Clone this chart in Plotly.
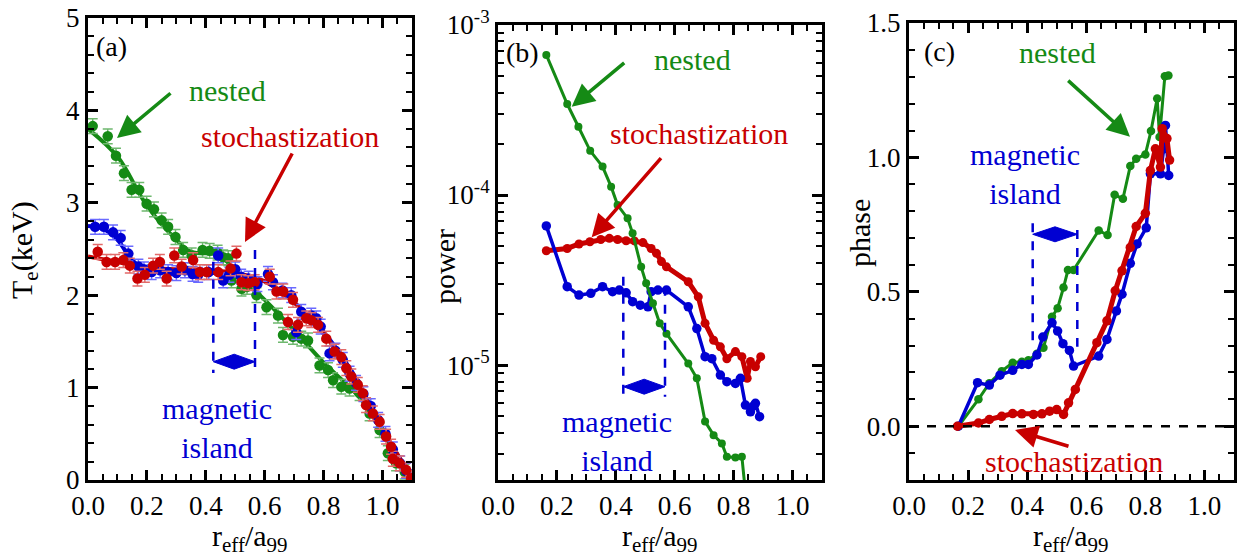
import plotly.graph_objects as go

W, H = 1245, 560
FONT = "Liberation Serif, DejaVu Serif, Times New Roman, serif"
GREEN = "#158a15"
BLUE = "#0000d2"
RED = "#c80000"
GREEN_L = "#6fb86f"
BLUE_L = "#6a6aff"
RED_L = "#e26a6a"

# ---------------- panel (a): Te profiles ----------------
TE_X_NESTED = [0.016, 0.067, 0.095, 0.122, 0.148, 0.174, 0.199, 0.224, 0.250, 0.272, 0.297, 0.323, 0.352,
               0.389, 0.413, 0.440, 0.459, 0.476, 0.487, 0.521, 0.540, 0.572, 0.606, 0.645, 0.662, 0.696,
               0.724, 0.747, 0.786, 0.815, 0.832, 0.860, 0.888, 0.922, 0.956, 0.990, 1.018, 1.046, 1.075, 1.095]
TE_Y_NESTED = [3.83, 3.72, 3.51, 3.32, 3.14, 3.14, 2.99, 2.93, 2.81, 2.74, 2.63, 2.49, 2.43,
               2.49, 2.48, 2.46, 2.41, 2.40, 2.16, 2.07, 2.09, 2.00, 1.87, 1.78, 1.57, 1.55,
               1.53, 1.51, 1.24, 1.19, 1.08, 1.01, 0.99, 0.94, 0.72, 0.54, 0.29, 0.18, 0.09, 0.03]

TE_X_ISLAND = [0.024, 0.054, 0.085, 0.111, 0.137, 0.171, 0.190, 0.216, 0.245, 0.272, 0.300, 0.329, 0.355,
               0.374, 0.410, 0.442, 0.459, 0.480, 0.500, 0.520, 0.545, 0.575, 0.611, 0.628, 0.660, 0.690,
               0.707, 0.724, 0.758, 0.775, 0.790, 0.820, 0.840, 0.865, 0.888, 0.910, 0.935, 0.960, 0.985,
               1.010, 1.035, 1.060, 1.080, 1.100]
TE_Y_ISLAND = [2.74, 2.74, 2.68, 2.62, 2.45, 2.31, 2.28, 2.25, 2.27, 2.25, 2.24, 2.27, 2.23,
               2.22, 2.25, 2.43, 2.16, 2.22, 2.28, 2.20, 2.18, 2.12, 2.23, 2.14, 2.05, 2.00,
               1.60, 1.82, 1.78, 1.75, 1.66, 1.37, 1.40, 1.30, 1.15, 1.05, 0.93, 0.80, 0.65,
               0.50, 0.33, 0.18, 0.10, 0.03]

TE_X_STOCH = [0.033, 0.063, 0.092, 0.120, 0.142, 0.168, 0.193, 0.221, 0.244, 0.267, 0.293, 0.318, 0.357,
              0.380, 0.403, 0.442, 0.484, 0.504, 0.521, 0.544, 0.566, 0.617, 0.640, 0.663, 0.679, 0.696,
              0.713, 0.741, 0.758, 0.781, 0.809, 0.837, 0.860, 0.877, 0.894, 0.916, 0.933, 0.944, 0.967,
              0.990, 1.012, 1.029, 1.035, 1.058, 1.080, 1.097]
TE_Y_STOCH = [2.47, 2.36, 2.36, 2.38, 2.32, 2.18, 2.22, 2.32, 2.36, 2.18, 2.43, 2.31, 2.38,
              2.25, 2.25, 2.25, 2.29, 2.45, 2.14, 2.13, 2.14, 2.20, 2.04, 2.04, 1.71, 1.95,
              1.68, 1.75, 1.73, 1.68, 1.53, 1.39, 1.33, 1.21, 1.12, 1.03, 0.94, 0.81, 0.72,
              0.63, 0.47, 0.36, 0.23, 0.18, 0.11, 0.02]
TE_ERR = 0.08

# fitted profile curves
FIT_X_NESTED = [0.0, 0.1, 0.2, 0.3, 0.35, 0.45, 0.5, 0.55, 0.6, 0.7, 0.8, 0.9, 0.95, 1.0, 1.05, 1.1]
FIT_Y_NESTED = [3.80, 3.50, 2.97, 2.60, 2.47, 2.43, 2.25, 2.10, 1.95, 1.62, 1.27, 0.97, 0.78, 0.52, 0.25, 0.02]
FIT_X_ISLAND = [0.0, 0.05, 0.1, 0.15, 0.2, 0.3, 0.4, 0.5, 0.6, 0.7, 0.8, 0.9, 1.0, 1.1]
FIT_Y_ISLAND = [2.75, 2.72, 2.60, 2.38, 2.28, 2.26, 2.25, 2.20, 2.15, 1.92, 1.60, 1.15, 0.55, 0.02]
FIT_X_STOCH = [0.0, 0.1, 0.2, 0.3, 0.4, 0.5, 0.6, 0.7, 0.8, 0.9, 1.0, 1.1]
FIT_Y_STOCH = [2.42, 2.36, 2.30, 2.28, 2.27, 2.24, 2.15, 1.92, 1.58, 1.13, 0.55, 0.02]

# ---------------- panel (b): power ----------------
PW_X_NESTED = [0.164, 0.235, 0.273, 0.313, 0.355, 0.384, 0.406, 0.440, 0.457, 0.486, 0.503, 0.526,
               0.549, 0.572, 0.646, 0.675, 0.703, 0.732, 0.760, 0.777, 0.806, 0.828, 0.850]
PW_Y_NESTED = [6.67e-4, 3.43e-4, 2.52e-4, 1.82e-4, 1.47e-4, 1.12e-4, 8.73e-5, 7.29e-5, 5.96e-5, 3.78e-5,
               3.03e-5, 2.31e-5, 1.76e-5, 1.53e-5, 1.02e-5, 8.36e-6, 4.65e-6, 3.87e-6, 3.46e-6, 2.89e-6,
               2.86e-6, 2.89e-6, 1.2e-6]

PW_X_ISLAND = [0.164, 0.235, 0.275, 0.315, 0.355, 0.389, 0.412, 0.435, 0.457, 0.483, 0.509, 0.520, 0.543,
               0.572, 0.646, 0.675, 0.703, 0.726, 0.755, 0.777, 0.806, 0.823, 0.840, 0.857, 0.868, 0.874, 0.888]
PW_Y_ISLAND = [6.58e-5, 2.89e-5, 2.58e-5, 2.64e-5, 2.89e-5, 2.70e-5, 2.76e-5, 2.66e-5, 2.36e-5, 2.25e-5,
               2.20e-5, 2.70e-5, 2.76e-5, 2.76e-5, 2.20e-5, 1.64e-5, 1.12e-5, 1.09e-5, 8.73e-6, 7.98e-6,
               7.80e-6, 8.36e-6, 5.82e-6, 5.31e-6, 5.75e-6, 5.96e-6, 4.97e-6]

PW_X_STOCH = [0.164, 0.235, 0.275, 0.312, 0.349, 0.378, 0.406, 0.435, 0.463, 0.492, 0.520, 0.538, 0.555,
              0.572, 0.646, 0.680, 0.703, 0.732, 0.755, 0.777, 0.806, 0.828, 0.846, 0.857, 0.874, 0.892]
PW_Y_STOCH = [4.70e-5, 4.85e-5, 5.15e-5, 5.31e-5, 5.48e-5, 5.56e-5, 5.48e-5, 5.38e-5, 5.37e-5, 5.25e-5,
              4.85e-5, 4.54e-5, 4.06e-5, 3.78e-5, 3.09e-5, 2.52e-5, 1.76e-5, 1.40e-5, 1.28e-5, 1.09e-5,
              1.20e-5, 1.12e-5, 8.36e-6, 1.05e-5, 9.77e-6, 1.12e-5]

# ---------------- panel (c): phase ----------------
PH_X_NESTED = [0.167, 0.235, 0.272, 0.314, 0.351, 0.382, 0.404, 0.433, 0.455, 0.484, 0.503, 0.523, 0.538,
               0.557, 0.642, 0.672, 0.696, 0.724, 0.749, 0.769, 0.800, 0.819, 0.840, 0.848, 0.866, 0.878]
PH_Y_NESTED = [0.0, 0.10, 0.16, 0.205, 0.236, 0.24, 0.245, 0.27, 0.292, 0.407, 0.439, 0.516, 0.581,
               0.581, 0.728, 0.711, 0.861, 0.846, 0.968, 0.995, 1.011, 1.098, 1.219, 1.076, 1.302, 1.305]

PH_X_ISLAND = [0.167, 0.232, 0.272, 0.308, 0.351, 0.382, 0.404, 0.433, 0.453, 0.484, 0.503, 0.521, 0.543,
               0.557, 0.642, 0.670, 0.702, 0.721, 0.749, 0.772, 0.803, 0.817, 0.851, 0.862, 0.868, 0.879]
PH_Y_ISLAND = [0.0, 0.162, 0.153, 0.19, 0.208, 0.23, 0.23, 0.265, 0.332, 0.385, 0.354, 0.307, 0.282,
               0.224, 0.261, 0.323, 0.429, 0.491, 0.606, 0.678, 0.738, 0.939, 0.939, 1.032, 1.119, 0.933]

PH_X_STOCH = [0.164, 0.235, 0.272, 0.314, 0.351, 0.382, 0.421, 0.450, 0.476, 0.500, 0.523, 0.540, 0.563,
              0.636, 0.670, 0.698, 0.721, 0.749, 0.769, 0.800, 0.817, 0.834, 0.851, 0.857, 0.873, 0.882]
PH_Y_STOCH = [0.0, 0.012, 0.025, 0.037, 0.047, 0.046, 0.044, 0.046, 0.056, 0.062, 0.044, 0.087, 0.137,
              0.311, 0.392, 0.504, 0.578, 0.665, 0.743, 0.792, 0.951, 1.032, 0.964, 1.107, 1.070, 0.990]

# ---------------- figure ----------------
fig = go.Figure()


def add(x, y, color, xa, ya, mode, lw=3, ms=9, err=None, errc=None, shape="linear"):
    kw = {}
    if err is not None:
        kw["error_y"] = dict(type="constant", value=err, color=errc, thickness=1.5, width=5)
    fig.add_trace(go.Scatter(x=x, y=y, mode=mode, xaxis=xa, yaxis=ya,
                             line=dict(color=color, width=lw, shape=shape),
                             marker=dict(color=color, size=ms, line=dict(width=0)),
                             showlegend=False, hoverinfo="skip", **kw))


# (a)
add(FIT_X_NESTED, FIT_Y_NESTED, GREEN, "x", "y", "lines", lw=4, shape="spline")
add(FIT_X_ISLAND, FIT_Y_ISLAND, BLUE, "x", "y", "lines", lw=4, shape="spline")
add(FIT_X_STOCH, FIT_Y_STOCH, RED, "x", "y", "lines", lw=4, shape="spline")
add(TE_X_NESTED, TE_Y_NESTED, GREEN, "x", "y", "markers", ms=10.5, err=TE_ERR, errc=GREEN_L)
add(TE_X_ISLAND, TE_Y_ISLAND, BLUE, "x", "y", "markers", ms=10.5, err=TE_ERR, errc=BLUE_L)
add(TE_X_STOCH, TE_Y_STOCH, RED, "x", "y", "markers", ms=10.5, err=TE_ERR, errc=RED_L)
# (b)
add(PW_X_STOCH, PW_Y_STOCH, RED, "x2", "y2", "lines+markers", lw=5, ms=9)
add(PW_X_ISLAND, PW_Y_ISLAND, BLUE, "x2", "y2", "lines+markers", lw=3.5, ms=9.5)
add(PW_X_NESTED, PW_Y_NESTED, GREEN, "x2", "y2", "lines+markers", lw=3, ms=8)
# (c)
add(PH_X_NESTED, PH_Y_NESTED, GREEN, "x3", "y3", "lines+markers", lw=3, ms=8.5)
add(PH_X_ISLAND, PH_Y_ISLAND, BLUE, "x3", "y3", "lines+markers", lw=3.5, ms=9.5)
add(PH_X_STOCH, PH_Y_STOCH, RED, "x3", "y3", "lines+markers", lw=5, ms=9.5)


def fx(px):
    return px / W


def fy(py):
    return 1 - py / H


TICKSIZE = 27
TITLESIZE = 30
AX = dict(showline=True, linecolor="black", linewidth=3, mirror="ticks", ticks="inside", ticklen=10,
          tickwidth=2.5, tickcolor="black", showgrid=False, zeroline=False, automargin=False,
          tickfont=dict(size=TICKSIZE, family=FONT, color="black"))


def xaxis(dom):
    return dict(AX, domain=dom, range=[0, 1.1], tick0=0, dtick=0.2, tickformat=".1f",
                minor=dict(ticks="inside", ticklen=6, tickwidth=2, tickcolor="black", dtick=0.05, tick0=0))


YBOT = fy(480)
fig.update_layout(
    width=W, height=H, margin=dict(l=0, r=0, t=0, b=0, autoexpand=False),
    paper_bgcolor="white", plot_bgcolor="white",
    font=dict(family=FONT, color="black"),
    xaxis=xaxis([fx(88), fx(412)]),
    xaxis2=dict(xaxis([fx(498), fx(822)]), anchor="y2"),
    xaxis3=dict(xaxis([fx(909), fx(1234)]), anchor="y3"),
    yaxis=dict(AX, domain=[YBOT, fy(18)], range=[0, 5], tick0=0, dtick=1,
               minor=dict(ticks="inside", ticklen=6, tickwidth=2, tickcolor="black", dtick=0.2, tick0=0)),
    yaxis2=dict(AX, domain=[YBOT, fy(25)], anchor="x2", type="log", range=[-5.676, -3],
                tickmode="array", tickvals=[1e-5, 1e-4, 1e-3],
                ticktext=["10<sup>-5</sup>", "10<sup>-4</sup>", "10<sup>-3</sup>"],
                minor=dict(ticks="inside", ticklen=6, tickwidth=2, tickcolor="black", tickmode="array",
                           tickvals=[m * 10 ** e for e in (-6, -5, -4) for m in range(2, 10)])),
    yaxis3=dict(AX, domain=[YBOT, fy(23)], anchor="x3", range=[-0.2, 1.5], tick0=0, dtick=0.5,
                tickformat=".1f",
                minor=dict(ticks="inside", ticklen=6, tickwidth=2, tickcolor="black", dtick=0.1, tick0=0)),
)

shapes = []
# zero line in (c)
shapes.append(dict(type="line", xref="x3 domain", yref="y3", x0=0, x1=1, y0=0, y1=0,
                   line=dict(color="black", width=2.5, dash="dash")))


def island(xl, xr, ytl, ytr, ybot, ydia, half=7.5):
    out = []
    for xx, yt in ((xl, ytl), (xr, ytr)):
        out.append(dict(type="line", xref="paper", yref="paper", x0=fx(xx), x1=fx(xx), y0=fy(yt), y1=fy(ybot),
                        line=dict(color=BLUE, width=2.5, dash="dash")))
    xm = (xl + xr) / 2
    path = (f"M {fx(xl)},{fy(ydia)} L {fx(xm)},{fy(ydia - half)} L {fx(xr)},{fy(ydia)} "
            f"L {fx(xm)},{fy(ydia + half)} Z")
    out.append(dict(type="path", xref="paper", yref="paper", path=path, fillcolor=BLUE,
                    line=dict(color=BLUE, width=1)))
    return out


shapes += island(213.3, 255, 261.7, 250, 373, 361.7)
shapes += island(623.3, 665, 276.7, 286.7, 396.7, 386.7)
shapes += island(1032.7, 1077.3, 223.3, 230, 346.7, 234.3)
fig.update_layout(shapes=shapes)

ann = []
ANNSIZE = 30


def text(px, py, s, color, size=ANNSIZE, angle=0, yanchor="middle"):
    ann.append(dict(x=fx(px), y=fy(py), xref="paper", yref="paper", text=s, showarrow=False,
                    textangle=angle, xanchor="center", yanchor=yanchor,
                    font=dict(size=size, family=FONT, color=color)))


def arrow(hx, hy, tx, ty, color):
    ann.append(dict(x=fx(hx), y=fy(hy), xref="paper", yref="paper", text="", showarrow=True,
                    ax=tx - hx, ay=ty - hy, arrowhead=2, arrowsize=1.3, arrowwidth=3.5,
                    arrowcolor=color))


# axis titles
XT = "r<sub>eff</sub>/a<sub>99</sub>"
text(250, 517, XT, "black", TITLESIZE, yanchor="top")
text(660, 517, XT, "black", TITLESIZE, yanchor="top")
text(1071, 517, XT, "black", TITLESIZE, yanchor="top")
text(24, 250, "T<sub>e</sub>(keV)", "black", TITLESIZE, angle=-90)
text(444, 267, "power", "black", TITLESIZE, angle=-90)
text(859, 233, "phase", "black", TITLESIZE, angle=-90)

text(111, 46, "(a)", "black", 28)
text(522, 52, "(b)", "black", 28)
text(940, 51, "(c)", "black", 28)

text(227, 91, "nested", GREEN)
text(290, 136, "stochastization", RED)
text(217, 428, "magnetic<br>island", BLUE)
arrow(117, 138, 172, 92, GREEN)
arrow(245, 242, 293, 152, RED)

text(692, 60, "nested", GREEN)
text(699, 133, "stochastization", RED)
text(617, 441, "magnetic<br>island", BLUE)
arrow(571.7, 106.7, 625.7, 61.7, GREEN)
arrow(591.7, 237.3, 662.3, 156.7, RED)

text(1057, 52, "nested", GREEN)
text(1025, 174, "magnetic<br>island", BLUE)
text(1074, 461, "stochastization", RED)
arrow(1130, 136.7, 1066.7, 79.3, GREEN)
arrow(1015, 430, 1070, 446.7, RED)

fig.update_layout(annotations=ann)

fig.write_html("out.html")
